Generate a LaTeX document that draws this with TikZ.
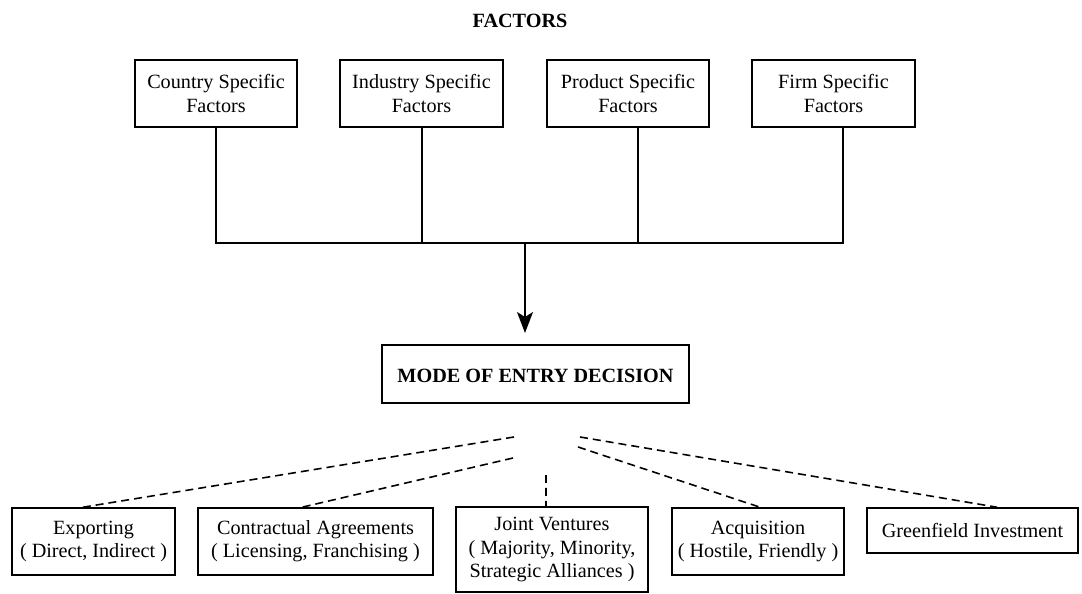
\documentclass[tikz,border=0pt]{standalone}
\usepackage{fontspec}
\setmainfont{Liberation Serif}
\usetikzlibrary{arrows.meta}

\tikzset{
  factorbox/.style={draw, line width=0.9pt, align=center, inner sep=0pt,
    minimum width=3.25cm, minimum height=1.34cm, font=\fontsize{11.5}{13.2}\selectfont},
  modebox/.style={draw, line width=0.9pt, inner sep=0pt,
    minimum width=6.14cm, minimum height=1.16cm, font=\fontsize{11.5}{13.2}\selectfont\bfseries},
  entrybox/.style={draw, line width=0.9pt, align=center, inner sep=0pt,
    minimum height=1.34cm, font=\fontsize{11.5}{13.2}\selectfont},
  dashline/.style={line width=0.9pt, dash pattern=on 0.16cm off 0.1cm},
}

\begin{document}
\begin{tikzpicture}[x=0.02cm, y=-0.02cm]
% page frame
\useasboundingbox (0,0) rectangle (1082,594);

\node[font=\fontsize{11.5}{13}\selectfont\bfseries] (title) at (520,21) {FACTORS};

% factor boxes
\node[factorbox] (country) at (216,93.5) {Country Specific\\Factors};
\node[factorbox] (industry) at (421.5,93.5) {Industry Specific\\Factors};
\node[factorbox] (product) at (628,93.5) {Product Specific\\Factors};
\node[factorbox] (firm) at (833.5,93.5) {Firm Specific\\Factors};

\coordinate (bus) at (525,243);
\coordinate (tip) at (525,333);

\draw[line width=0.8pt] (country.south) |- (bus);
\draw[line width=0.8pt] ([xshift=0.01cm]industry.south) -- ([xshift=0.01cm]industry.south |- bus);
\draw[line width=0.8pt] ([xshift=0.2cm]product.south) |- (bus);
\draw[line width=0.8pt] ([xshift=0.19cm]firm.south) |- (bus);
\draw[line width=0.8pt, -{Stealth[length=0.42cm,width=0.32cm,inset=0.1cm]}] (bus) -- (tip);

\node[modebox, text height=0.36cm, text depth=0pt] (mode) at (535.5,374) {MODE OF ENTRY DECISION};

% entry modes
\node[entrybox, minimum width=3.26cm] (export) at (93.5,541.5) {Exporting\\( Direct, Indirect )};
\node[entrybox, minimum width=4.7cm] (contract) at (315.5,541.5) {Contractual Agreements\\( Licensing, Franchising )};
\node[entrybox, minimum width=3.84cm, minimum height=1.7cm] (joint) at (552,549.5) {Joint Ventures\\( Majority, Minority,\\Strategic Alliances )};
\node[entrybox, minimum width=3.44cm] (acquire) at (758,541.5) {Acquisition\\( Hostile, Friendly )};
\node[entrybox, minimum width=4.22cm, minimum height=0.9cm] (green) at (972.5,530.5) {Greenfield Investment};

\coordinate (fanA) at (514,437);
\coordinate (fanB) at (513,458);
\coordinate (fanC) at (546,475);
\coordinate (fanD) at (578,447);
\coordinate (fanE) at (580,437);

\draw[dashline] (fanA) -- ([xshift=-0.21cm]export.north);
\draw[dashline] (fanB) -- ([xshift=-0.27cm]contract.north);
\draw[dashline] (fanC) -- ([xshift=-0.12cm]joint.north);
\draw[dashline] (fanD) -- ([xshift=0.04cm]acquire.north);
\draw[dashline] (fanE) -- ([xshift=0.49cm]green.north);

\end{tikzpicture}
\end{document}
